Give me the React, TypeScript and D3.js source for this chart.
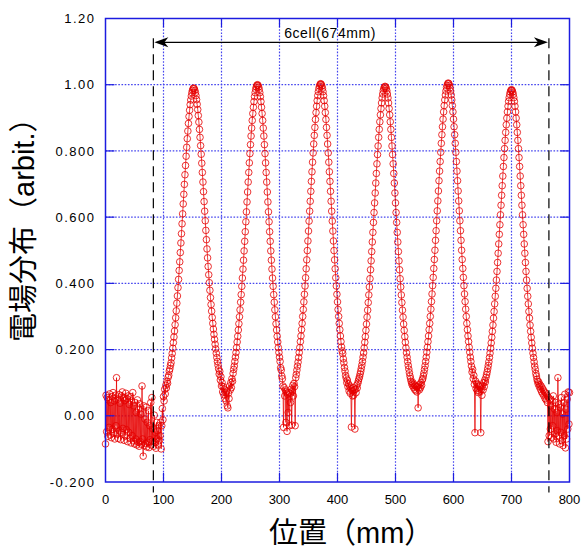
import React, { useEffect, useRef } from 'react';
import * as d3 from 'd3';

// field profile readings, 1 mm pitch, each run starts at its own position (mm)
const noiseIn = [
  -0.085, 0.062, -0.048, 0.055, -0.062, 0.048, -0.035, 0.066, -0.058, 0.040,
  -0.066, 0.058, -0.040, 0.070, -0.052, 0.045, -0.070, 0.062, -0.030, 0.115,
  -0.055, 0.050, -0.068, 0.064, -0.045, 0.038, -0.072, 0.060, -0.050, 0.072,
  -0.038, 0.055, -0.074, 0.046, -0.060, 0.068, -0.042, 0.052, -0.078, 0.060,
  -0.050, 0.034, -0.068, 0.058, -0.082, 0.044, -0.060, 0.070, -0.076, 0.030,
  -0.085, 0.040, -0.070, 0.010, -0.088, 0.048, -0.080, 0.020, -0.092, 0.036,
  -0.078, 0.005, -0.086, 0.090, -0.070, -0.122, 0.030, -0.090, -0.010, -0.084,
  0.026, -0.094, -0.020, -0.080, 0.015, -0.096, -0.030, -0.072, 0.040, -0.088,
  0.055, -0.076, -0.040, -0.092, 0.002, -0.080, -0.050, -0.098, -0.020, -0.070,
  -0.045, -0.088, -0.030, -0.075, -0.060, -0.020, -0.100,
];
const cell1 = [
  -0.030, 0.022, -0.012, 0.058, 0.045, 0.080, 0.066, 0.092, 0.084, 0.104,
  0.098, 0.116, 0.122, 0.135, 0.142, 0.152, 0.160, 0.175, 0.188, 0.204,
  0.221, 0.238, 0.256, 0.275, 0.296, 0.317, 0.340, 0.362, 0.387, 0.412,
  0.439, 0.465, 0.493, 0.522, 0.550, 0.580, 0.610, 0.640, 0.669, 0.699,
  0.728, 0.756, 0.784, 0.811, 0.837, 0.860, 0.883, 0.904, 0.923, 0.940,
  0.954, 0.966, 0.976, 0.983, 0.988, 0.990, 0.988, 0.983, 0.976, 0.967,
  0.955, 0.941, 0.925, 0.907, 0.887, 0.865, 0.841, 0.816, 0.790, 0.763,
  0.735, 0.706, 0.677, 0.647, 0.618, 0.589, 0.560, 0.532, 0.504, 0.477,
  0.451, 0.426, 0.402, 0.379, 0.357, 0.336, 0.316, 0.297, 0.279, 0.262,
  0.246, 0.231, 0.216, 0.202, 0.189, 0.176, 0.164, 0.153, 0.142, 0.126,
  0.134, 0.108, 0.118, 0.090, 0.100, 0.072, 0.088, 0.064, 0.080, 0.052,
  0.070,
];
const cell2 = [
  0.045, 0.075, 0.030, 0.024, 0.068, 0.052, 0.090, 0.078, 0.100, 0.085,
  0.112, 0.104, 0.128, 0.140, 0.150, 0.164, 0.177, 0.191, 0.206, 0.223,
  0.240, 0.259, 0.278, 0.299, 0.320, 0.343, 0.366, 0.391, 0.416, 0.443,
  0.470, 0.498, 0.527, 0.556, 0.586, 0.616, 0.646, 0.676, 0.706, 0.735,
  0.764, 0.792, 0.819, 0.845, 0.869, 0.892, 0.913, 0.932, 0.949, 0.964,
  0.976, 0.986, 0.993, 0.998, 1.000, 0.998, 0.993, 0.986, 0.976, 0.964,
  0.949, 0.932, 0.913, 0.892, 0.869, 0.845, 0.819, 0.792, 0.764, 0.735,
  0.706, 0.676, 0.646, 0.616, 0.586, 0.556, 0.527, 0.498, 0.470, 0.443,
  0.416, 0.391, 0.366, 0.343, 0.320, 0.299, 0.278, 0.259, 0.240, 0.223,
  0.206, 0.191, 0.177, 0.164, 0.145, 0.138, 0.120, 0.112, 0.090, -0.035,
  0.085, 0.060, 0.078, -0.020, 0.072, -0.047, 0.065, 0.010, 0.070,
];
const cell3 = [
  -0.030, 0.068, 0.040, 0.080, -0.028, 0.075, 0.092, 0.060, 0.098, 0.088,
  -0.030, 0.115, 0.125, 0.138, 0.150, 0.162, 0.176, 0.191, 0.206, 0.224,
  0.241, 0.260, 0.279, 0.300, 0.321, 0.344, 0.367, 0.392, 0.417, 0.444,
  0.471, 0.499, 0.528, 0.558, 0.588, 0.618, 0.648, 0.678, 0.708, 0.737,
  0.766, 0.794, 0.821, 0.847, 0.871, 0.895, 0.916, 0.935, 0.952, 0.967,
  0.979, 0.989, 0.996, 1.001, 1.003, 1.001, 0.996, 0.989, 0.979, 0.967,
  0.952, 0.935, 0.916, 0.895, 0.871, 0.847, 0.821, 0.794, 0.766, 0.737,
  0.708, 0.678, 0.648, 0.618, 0.588, 0.558, 0.528, 0.499, 0.471, 0.444,
  0.417, 0.392, 0.367, 0.344, 0.321, 0.300, 0.279, 0.260, 0.241, 0.224,
  0.208, 0.196, 0.188, 0.172, 0.160, 0.146, 0.135, 0.122, 0.114, 0.100,
  0.108, 0.088, 0.096, 0.075, 0.090, 0.068, 0.082, -0.034, 0.076, 0.060,
];
const cell4 = [
  0.085, 0.062, 0.078, -0.040, 0.080, 0.070, 0.092, 0.084, 0.098, 0.105,
  0.112, 0.118, 0.126, 0.134, 0.143, 0.153, 0.164, 0.177, 0.190, 0.205,
  0.222, 0.239, 0.258, 0.277, 0.298, 0.319, 0.342, 0.365, 0.389, 0.414,
  0.441, 0.468, 0.496, 0.525, 0.554, 0.584, 0.614, 0.643, 0.673, 0.703,
  0.732, 0.761, 0.789, 0.815, 0.841, 0.865, 0.888, 0.909, 0.928, 0.945,
  0.960, 0.972, 0.982, 0.989, 0.993, 0.995, 0.993, 0.989, 0.982, 0.972,
  0.960, 0.945, 0.928, 0.909, 0.888, 0.865, 0.841, 0.815, 0.789, 0.761,
  0.732, 0.703, 0.673, 0.643, 0.614, 0.584, 0.554, 0.525, 0.496, 0.468,
  0.441, 0.414, 0.389, 0.365, 0.342, 0.319, 0.298, 0.277, 0.258, 0.239,
  0.222, 0.205, 0.190, 0.177, 0.164, 0.152, 0.141, 0.130, 0.120, 0.112,
  0.104, 0.098, 0.092, 0.100, 0.086, 0.094, 0.080, 0.090, 0.076, 0.088,
];
const cell5 = [
  0.072, 0.090, 0.024, 0.085, 0.078, 0.095, 0.084, 0.100, 0.092, 0.108,
  0.112, 0.120, 0.129, 0.140, 0.151, 0.164, 0.177, 0.192, 0.207, 0.224,
  0.241, 0.260, 0.279, 0.300, 0.322, 0.345, 0.368, 0.393, 0.418, 0.445,
  0.472, 0.500, 0.530, 0.559, 0.589, 0.619, 0.649, 0.679, 0.710, 0.739,
  0.768, 0.796, 0.823, 0.849, 0.873, 0.896, 0.918, 0.937, 0.954, 0.969,
  0.981, 0.991, 0.998, 1.003, 1.005, 1.003, 0.998, 0.991, 0.981, 0.969,
  0.954, 0.937, 0.918, 0.896, 0.873, 0.849, 0.823, 0.796, 0.768, 0.739,
  0.710, 0.679, 0.649, 0.619, 0.589, 0.559, 0.530, 0.500, 0.472, 0.445,
  0.418, 0.393, 0.368, 0.345, 0.322, 0.300, 0.279, 0.260, 0.241, 0.224,
  0.207, 0.192, 0.177, 0.164, 0.150, 0.132, 0.140, 0.112, 0.122, 0.095,
  -0.051, 0.105, 0.082, 0.098, 0.076, 0.094, 0.070, 0.090, 0.074,
];
const cell6 = [
  0.088, -0.051, 0.080, 0.062, 0.092, 0.078, 0.100, 0.088, 0.108, 0.102,
  0.116, 0.124, 0.132, 0.142, 0.152, 0.163, 0.176, 0.189, 0.204, 0.220,
  0.237, 0.255, 0.274, 0.295, 0.315, 0.338, 0.361, 0.385, 0.410, 0.436,
  0.463, 0.491, 0.519, 0.548, 0.577, 0.607, 0.636, 0.666, 0.695, 0.724,
  0.753, 0.780, 0.807, 0.832, 0.856, 0.879, 0.899, 0.918, 0.935, 0.950,
  0.961, 0.971, 0.978, 0.983, 0.985, 0.983, 0.978, 0.971, 0.961, 0.950,
  0.935, 0.918, 0.899, 0.879, 0.856, 0.832, 0.807, 0.780, 0.753, 0.724,
  0.695, 0.666, 0.636, 0.607, 0.577, 0.548, 0.519, 0.491, 0.463, 0.436,
  0.410, 0.385, 0.361, 0.338, 0.315, 0.295, 0.274, 0.255, 0.237, 0.220,
  0.204, 0.189, 0.176, 0.163, 0.150, 0.140, 0.128, 0.120, 0.110, 0.104,
  0.096, 0.102, 0.088, 0.094, 0.080, 0.090, 0.072, 0.084, 0.066, 0.078,
  0.060, 0.072, 0.052, 0.068, 0.048, 0.062, 0.040, -0.078, 0.055, -0.060,
];
const noiseOut = [
  0.050, -0.040, 0.030, -0.065, 0.045, -0.030, 0.060, -0.070, 0.020, -0.055,
  0.040, -0.080, 0.010, -0.045, 0.115, -0.060, 0.035, -0.085, 0.025, -0.050,
  0.055, -0.075, 0.005, -0.090, 0.040, -0.060, 0.065, -0.097, 0.020, -0.070,
  0.050, -0.040, 0.072, -0.025, 0.070,
];

const segments = [
  { start: 0, values: noiseIn },
  { start: 97, values: cell1 },
  { start: 208, values: cell2 },
  { start: 317, values: cell3 },
  { start: 427, values: cell4 },
  { start: 537, values: cell5 },
  { start: 646, values: cell6 },
  { start: 766, values: noiseOut },
];

const xTicks = [0, 100, 200, 300, 400, 500, 600, 700, 800];
const yTicks = [-0.2, 0, 0.2, 0.4, 0.6, 0.8, 1.0, 1.2];
const yTickLabels = ['-0.200', '0.00', '0.200', '0.400', '0.600', '0.800', '1.00', '1.20'];

// cavity ends (mm) and the dimension arrow height
const cellEnds = [82.5, 764.5];
const arrowLevel = 1.128;
const cellLabel = '6cell(674mm)';

const App = () => {
  const ref = useRef(null);

  useEffect(() => {
    const svg = d3.select(ref.current);
    svg.selectAll('*').remove();

    const x = d3.scaleLinear().domain([0, 800]).range([105.5, 569.5]);
    const y = d3.scaleLinear().domain([-0.2, 1.2]).range([482, 18.5]);
    const [x0, x1] = x.range();
    const [y0, y1] = y.range();

    const points = segments.flatMap(s => s.values.map((v, i) => ({ pos: s.start + i, val: v })));

    const blue = '#1c1ce0';
    const gridBlue = '#4545ee';

    // grid
    const grid = svg.append('g');
    grid.selectAll('line.h')
      .data(yTicks.slice(1, -1))
      .enter().append('line')
      .attr('x1', x0).attr('x2', x1)
      .attr('y1', d => y(d)).attr('y2', d => y(d))
      .attr('stroke', gridBlue).attr('stroke-width', 1.2)
      .attr('stroke-dasharray', '1.6,1.6');
    grid.selectAll('line.v')
      .data(xTicks.slice(1, -1))
      .enter().append('line')
      .attr('y1', y0).attr('y2', y1)
      .attr('x1', d => x(d)).attr('x2', d => x(d))
      .attr('stroke', gridBlue).attr('stroke-width', 1.2)
      .attr('stroke-dasharray', '1.6,1.6');

    // data
    const line = d3.line().x(d => x(d.pos)).y(d => y(d.val));
    svg.append('path')
      .datum(points)
      .attr('d', line)
      .attr('fill', 'none')
      .attr('stroke', '#e60000')
      .attr('stroke-opacity', 0.85)
      .attr('stroke-width', 0.9);

    svg.append('g')
      .selectAll('circle')
      .data(points)
      .enter().append('circle')
      .attr('cx', d => x(d.pos))
      .attr('cy', d => y(d.val))
      .attr('r', 3.3)
      .attr('fill', 'none')
      .attr('stroke', '#e60000')
      .attr('stroke-opacity', 0.8)
      .attr('stroke-width', 1);

    // frame + inward ticks
    svg.append('rect')
      .attr('x', x0).attr('y', y1)
      .attr('width', x1 - x0).attr('height', y0 - y1)
      .attr('fill', 'none').attr('stroke', blue).attr('stroke-width', 1.5);

    const ticks = svg.append('g').attr('stroke', blue).attr('stroke-width', 1.2);
    xTicks.slice(1, -1).forEach(t => {
      ticks.append('line').attr('x1', x(t)).attr('x2', x(t)).attr('y1', y0).attr('y2', y0 - 9);
      ticks.append('line').attr('x1', x(t)).attr('x2', x(t)).attr('y1', y1).attr('y2', y1 + 9);
    });
    yTicks.slice(1, -1).forEach(t => {
      ticks.append('line').attr('x1', x0).attr('x2', x0 + 9).attr('y1', y(t)).attr('y2', y(t));
      ticks.append('line').attr('x1', x1).attr('x2', x1 - 9).attr('y1', y(t)).attr('y2', y(t));
    });

    // tick labels
    svg.append('g')
      .selectAll('text')
      .data(xTicks)
      .enter().append('text')
      .attr('x', d => x(d))
      .attr('y', 504)
      .attr('text-anchor', 'middle')
      .style('font-family', 'Liberation Sans, Arial, sans-serif')
      .style('font-size', '13px')
      .text(d => String(d));

    svg.append('g')
      .selectAll('text')
      .data(yTicks)
      .enter().append('text')
      .attr('x', 95.5)
      .attr('y', d => y(d) + 4.7)
      .attr('text-anchor', 'end')
      .style('font-family', 'Liberation Sans, Arial, sans-serif')
      .style('font-size', '13px')
      .style('letter-spacing', '1.5px')
      .text((d, i) => yTickLabels[i]);

    // cavity length annotation
    svg.append('g')
      .selectAll('line')
      .data(cellEnds)
      .enter().append('line')
      .attr('x1', d => x(d)).attr('x2', d => x(d))
      .attr('y1', y(1.14)).attr('y2', y(-0.232))
      .attr('stroke', '#000').attr('stroke-width', 1.2)
      .attr('stroke-dasharray', '10,6');

    const ay = y(arrowLevel);
    const ax0 = x(cellEnds[0]) + 1;
    const ax1 = x(cellEnds[1]) - 1;
    svg.append('line')
      .attr('x1', ax0 + 8).attr('x2', ax1 - 8)
      .attr('y1', ay).attr('y2', ay)
      .attr('stroke', '#000').attr('stroke-width', 1.2);
    const head = 'M0,0 L14,-5 L10,0 L14,5 Z';
    svg.append('path').attr('d', head).attr('transform', `translate(${ax0},${ay})`).attr('fill', '#000');
    svg.append('path').attr('d', head).attr('transform', `translate(${ax1},${ay}) scale(-1,1)`).attr('fill', '#000');

    svg.append('text')
      .attr('x', (ax0 + ax1) / 2 - 21)
      .attr('y', ay - 4.5)
      .attr('text-anchor', 'middle')
      .style('font-family', 'Liberation Sans, Arial, sans-serif')
      .style('font-size', '14px')
      .style('letter-spacing', '0.6px')
      .text(cellLabel);

    // axis titles
    svg.append('text')
      .attr('x', 269)
      .attr('y', 543)
      .style('font-family', "'Liberation Sans', 'Noto Sans CJK JP', sans-serif")
      .style('font-size', '29px')
      .text('位置（mm）');

    svg.append('text')
      .attr('transform', 'translate(34,342) rotate(-90)')
      .style('font-family', "'Liberation Sans', 'Noto Sans CJK JP', sans-serif")
      .style('font-size', '29px')
      .text('電場分布（arbit.）');
  });

  return (
    <svg ref={ref} width="581" height="548" style={{ position: 'absolute', left: 0, top: 0, background: '#fff' }}></svg>
  );
};

export default App;
